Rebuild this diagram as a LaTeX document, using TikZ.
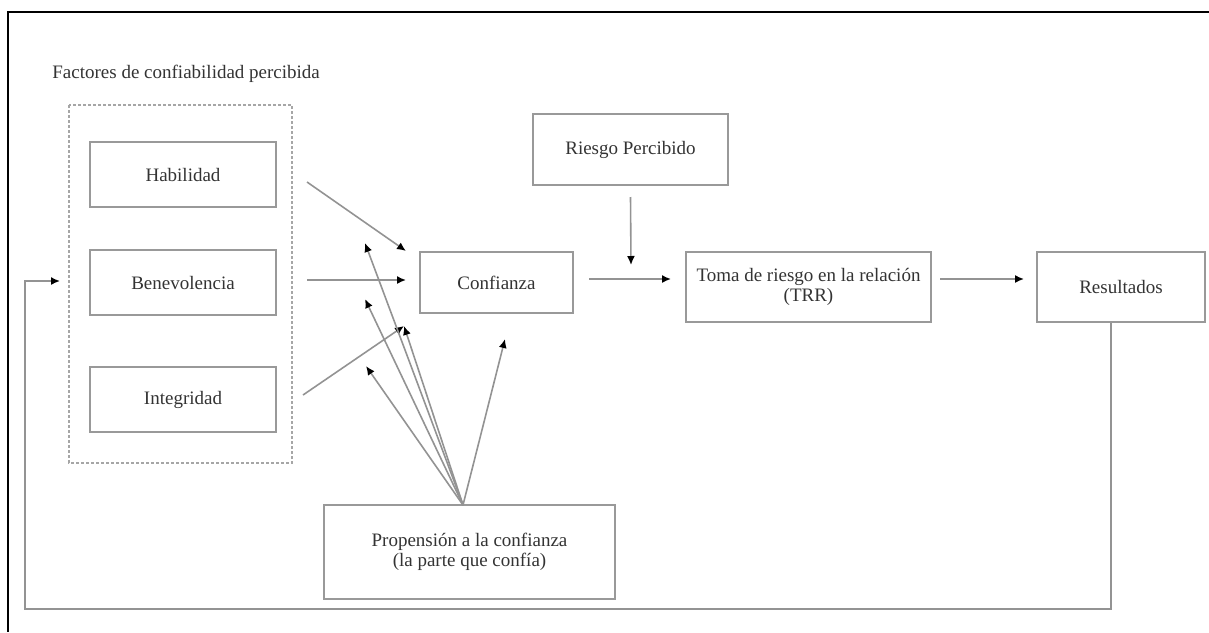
\documentclass[tikz,border=0pt]{standalone}
\usepackage{fontspec}
\setmainfont{Liberation Serif}
\usetikzlibrary{positioning, arrows.meta, calc}

\begin{document}
\begin{tikzpicture}[x=0.5pt, y=-0.5pt, font=\fontsize{9.5}{10}\selectfont, text=black!80,
		fct/.style={rectangle, draw=gray!80, line width=1pt, align=center, inner sep=0pt},
		fbox/.style={fct, minimum width=93pt, minimum height=32.5pt},
		arr/.style={draw=gray!85, line width=0.8pt, -{Latex[length=4.5pt, width=4pt, color=black]}}]
		\useasboundingbox (0,0) rectangle (1209,632);
		\draw[line width=1pt] (1209,12) -- (8,12) -- (8,632);
		\node[anchor=west, inner sep=0pt] (T) at (52,74) {Factores de confiabilidad percibida};
		\draw[gray!70, line width=0.8pt, dash pattern=on 1.5pt off 1pt] (69,105) rectangle (292,463);
		\node[fbox] (H) at (183,174.5) {Habilidad};
		\node[fbox] (B) [below=20.5pt of H] {Benevolencia};
		\node[fbox] (I) [below=25pt of B] {Integridad};
		\node[fct, minimum width=76.5pt, minimum height=30.5pt] (C) at (496.5,282.5) {Confianza};
		\node[fct, minimum width=97.5pt, minimum height=35.5pt] (RP) at (630.5,149.5) {Riesgo Percibido};
		\node[fct, minimum width=122.5pt, minimum height=35pt] (TR) at (808.5,287) {Toma de riesgo en la relación\\(TRR)};
		\node[fct, minimum width=84pt, minimum height=35pt] (R) at (1121,287) {Resultados};
		\node[fct, minimum width=145.5pt, minimum height=47pt] (P) at (469.5,552) {Propensión a la confianza\\(la parte que confía)};
		% puntas de flecha sueltas
		\coordinate (H1) at (307,182); \coordinate (H2) at (406,251);
		\coordinate (B1) at (307,280); \coordinate (B2) at (406,280);
		\coordinate (I1) at (303,395); \coordinate (I2) at (404,326);
		\coordinate (P0) at (463,505);
		\coordinate (RP1) at (631,265); \coordinate (BI) at (60,281);
		\draw[arr] (H1) -- (H2); \draw[arr] (B1) -- (B2); \draw[arr] (I1) -- (I2);
		\foreach \t in {(365,243), (365,299), (404,326), (366,366), (505,339)}
			\draw[arr] (P0) -- \t;
		\draw[arr] ([yshift=-5.5pt]RP.south) -- (RP1);
		\draw[arr] ([xshift=7.5pt]C.east |- 0,279) -- ([xshift=-7pt]TR.west |- 0,279);
		\draw[arr] ([xshift=4pt]TR.east |- 0,279) -- ([xshift=-6pt]R.west |- 0,279);
		\draw[arr] ([xshift=-5pt]R.south) |- (25,609) |- (BI);
	\end{tikzpicture}
\end{document}
